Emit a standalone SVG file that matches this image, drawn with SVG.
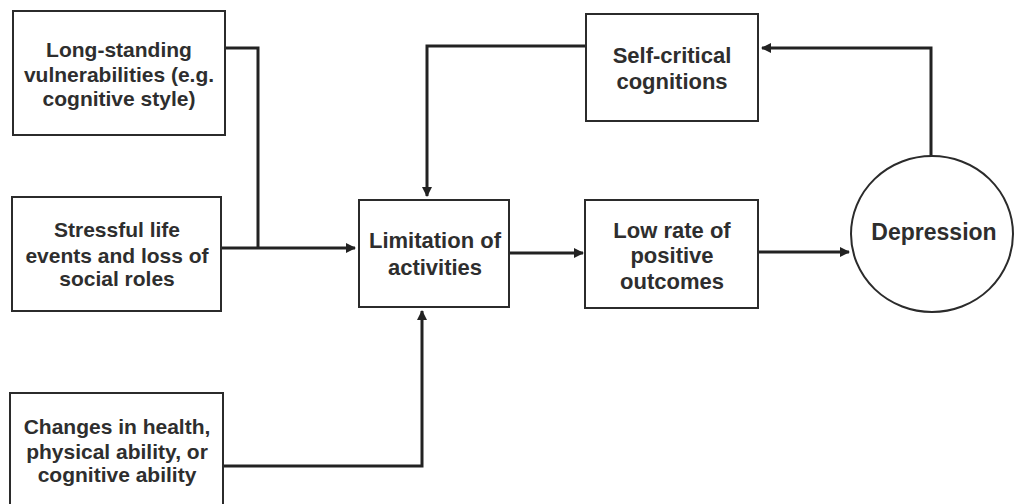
<svg xmlns="http://www.w3.org/2000/svg" width="1014" height="504" viewBox="0 0 1014 504">
<defs>
<style>
.box{fill:#fff;stroke:#2b2b2b;stroke-width:2}
.t{font-family:"Liberation Sans",Arial,sans-serif;font-weight:bold;fill:#2e2e2e;text-anchor:middle}
.s{font-size:21px}
.m{font-size:22px}
.c{fill:none;stroke:#222;stroke-width:3}
</style>
<marker id="ah" markerWidth="10" markerHeight="10" refX="9" refY="5" orient="auto" markerUnits="userSpaceOnUse">
<path d="M0,0 L10,5 L0,10 Z" fill="#222"/>
</marker>
</defs>
<rect width="1014" height="504" fill="#fff"/>
<g id="connectors">
<path class="c" d="M225,48 H258 V248"/>
<path class="c" d="M222,248 H355" marker-end="url(#ah)"/>
<path class="c" d="M223,466 H422 V311" marker-end="url(#ah)"/>
<path class="c" d="M586,46 H427 V196" marker-end="url(#ah)"/>
<path class="c" d="M509,253 H583" marker-end="url(#ah)"/>
<path class="c" d="M758,252 H849" marker-end="url(#ah)"/>
<path class="c" d="M931,156 V48 H762" marker-end="url(#ah)"/>
</g>
<g id="longstanding">
<rect class="box" x="13" y="11" width="212" height="124"/>
<text class="t s" x="119" y="57">Long-standing</text>
<text class="t s" x="119" y="82">vulnerabilities (e.g.</text>
<text class="t s" x="119" y="106">cognitive style)</text>
</g>
<g id="stressful">
<rect class="box" x="12" y="197" width="209" height="114"/>
<text class="t s" x="117" y="237">Stressful life</text>
<text class="t s" x="117" y="263">events and loss of</text>
<text class="t s" x="117" y="286">social roles</text>
</g>
<g id="changes">
<rect class="box" x="10" y="393" width="213" height="112"/>
<text class="t s" x="117" y="434">Changes in health,</text>
<text class="t s" x="117" y="459">physical ability, or</text>
<text class="t s" x="117" y="482">cognitive ability</text>
</g>
<g id="limitation">
<rect class="box" x="359" y="200" width="150" height="107"/>
<text class="t m" x="435" y="248">Limitation of</text>
<text class="t m" x="435" y="275">activities</text>
</g>
<g id="lowrate">
<rect class="box" x="585" y="200" width="173" height="108"/>
<text class="t m" x="672" y="238">Low rate of</text>
<text class="t m" x="672" y="263">positive</text>
<text class="t m" x="672" y="289">outcomes</text>
</g>
<g id="selfcritical">
<rect class="box" x="586" y="14" width="172" height="107"/>
<text class="t m" x="672" y="63">Self-critical</text>
<text class="t m" x="672" y="89">cognitions</text>
</g>
<g id="depression">
<ellipse class="box" cx="932" cy="234" rx="81" ry="78"/>
<text class="t" x="934" y="240" font-size="23">Depression</text>
</g>
</svg>
